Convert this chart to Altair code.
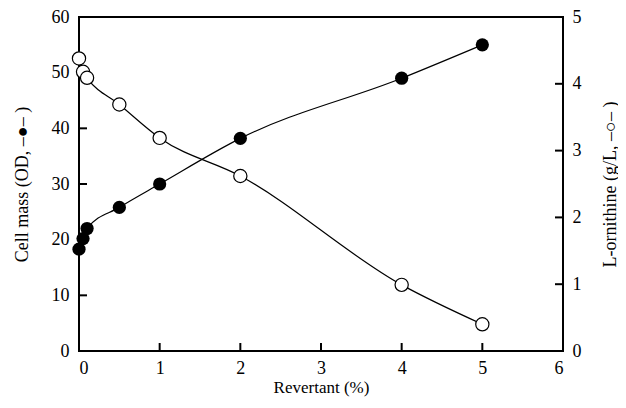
import altair as alt
import pandas as pd

revertant = [0, 0.05, 0.1, 0.5, 1, 2, 4, 5]
cell_mass = [18.3, 20.2, 22.0, 25.8, 30.0, 38.2, 49.0, 55.0]
ornithine = [4.38, 4.18, 4.09, 3.69, 3.19, 2.62, 0.99, 0.40]

x_ticks = [0, 1, 2, 3, 4, 5, 6]
left_ticks = [0, 10, 20, 30, 40, 50, 60]
right_ticks = [0, 1, 2, 3, 4, 5]

W, H = 484, 334
FONT = "Liberation Serif"

df = pd.DataFrame({"x": revertant, "cm": cell_mass, "orn": ornithine})
dx = pd.DataFrame({"t": x_ticks})
dl = pd.DataFrame({"t": left_ticks})
dr = pd.DataFrame({"t": right_ticks})

xs = alt.Scale(domain=[0, 6], nice=False)
xax = alt.Axis(values=x_ticks, ticks=False, domain=False, grid=False, labelPadding=8,
               title="Revertant (%)", titlePadding=2, format="d", titleFontSize=17)
ysl = alt.Scale(domain=[0, 60], nice=False)
ysr = alt.Scale(domain=[0, 5], nice=False)

base = alt.Chart(df)

left_line = base.mark_line(color="black", strokeWidth=1.2, interpolate="monotone").encode(
    x=alt.X("x:Q", scale=xs, axis=xax),
    y=alt.Y("cm:Q", scale=ysl,
            axis=alt.Axis(orient="left", values=left_ticks, ticks=False, domain=False, grid=False,
                          labelPadding=10, title="Cell mass (OD,   –●– )", titlePadding=20,
                          format="d")),
)
left_pts = base.mark_point(shape="circle", filled=True, color="black", size=175, opacity=1).encode(
    x=alt.X("x:Q", scale=xs), y=alt.Y("cm:Q", scale=ysl))
left_tk = alt.Chart(dl).mark_rule(color="black", strokeWidth=2).encode(
    y=alt.Y("t:Q", scale=ysl), x=alt.value(0), x2=alt.value(8))
bottom_tk = alt.Chart(dx).mark_rule(color="black", strokeWidth=2).encode(
    x=alt.X("t:Q", scale=xs), y=alt.value(H), y2=alt.value(H - 8))

right_line = base.mark_line(color="black", strokeWidth=1.2, interpolate="monotone").encode(
    x=alt.X("x:Q", scale=xs),
    y=alt.Y("orn:Q", scale=ysr,
            axis=alt.Axis(orient="right", values=right_ticks, ticks=False, domain=False, grid=False,
                          labelPadding=9, title="L-ornithine (g/L,   –○– )", titleAngle=270,
                          titlePadding=38, format="d")),
)
right_pts = base.mark_point(shape="circle", filled=True, fill="white", stroke="black",
                            strokeWidth=1.2, size=175, opacity=1).encode(
    x=alt.X("x:Q", scale=xs), y=alt.Y("orn:Q", scale=ysr))
right_tk = alt.Chart(dr).mark_rule(color="black", strokeWidth=2).encode(
    y=alt.Y("t:Q", scale=ysr), x=alt.value(W - 8), x2=alt.value(W))

left = alt.layer(left_tk, bottom_tk, left_line, left_pts)
right = alt.layer(right_tk, right_line, right_pts)

chart = alt.layer(left, right).resolve_scale(y="independent").properties(
    width=W, height=H,
    background="white",
    autosize=alt.AutoSizeParams(type="none"),
    padding={"left": 71, "top": 9, "right": 55, "bottom": 57},
).configure_view(stroke="black", strokeWidth=2).configure_axis(
    labelFont=FONT, titleFont=FONT, labelFontSize=18, titleFontSize=18,
    labelColor="black", titleColor="black", titleFontWeight="normal",
)

chart.save("out.html", embed_options={"renderer": "svg", "actions": False})
